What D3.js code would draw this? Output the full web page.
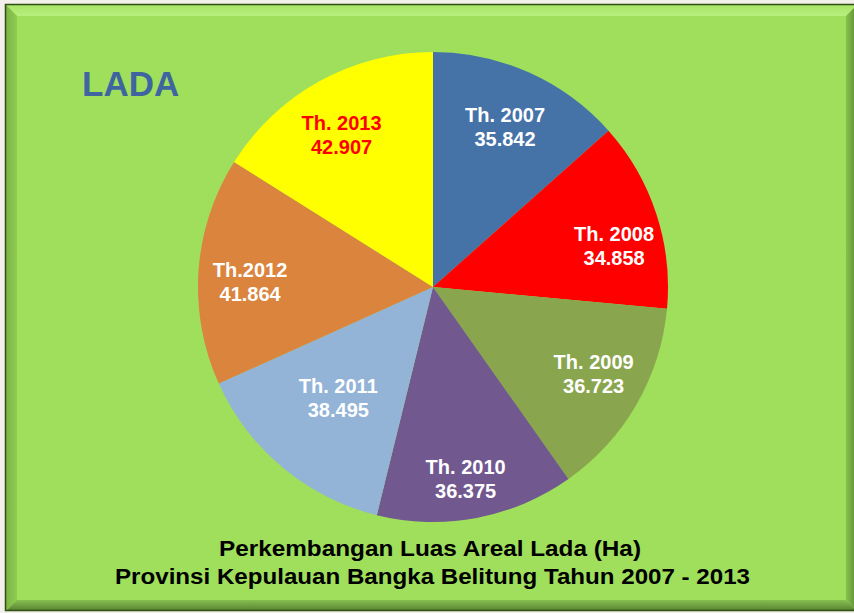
<!DOCTYPE html>
<html>
<head>
<meta charset="utf-8">
<style>
    body { margin:0; background:#f3efe9; }
    svg { display:block; }
    text { font-family: Arial, "Liberation Sans", sans-serif; font-weight:bold; }
</style>
</head>
<body>
<svg id="view" width="854" height="613"></svg>

<script src="https://cdnjs.cloudflare.com/ajax/libs/d3/7.8.5/d3.min.js"></script>
<script>
    // data (Ha)
    const years = ['2007', '2008', '2009', '2010', '2011', '2012', '2013'];
    const values = [35842, 34858, 36723, 36375, 38495, 41864, 42907];
    const yearLabels = ['Th. 2007', 'Th. 2008', 'Th. 2009', 'Th. 2010', 'Th. 2011', 'Th.2012', 'Th. 2013'];
    const sliceColours = ['#4572A7', '#FF0000', '#89A54E', '#71588F', '#93B3D7', '#DB843D', '#FFFF00'];
    const labelColours = ['#fff', '#fff', '#fff', '#fff', '#fff', '#fff', '#FF0000'];
    const titleLines = ['Perkembangan Luas Areal Lada  (Ha)', 'Provinsi Kepulauan Bangka Belitung Tahun 2007 - 2013'];

    // label placement (Excel "best fit" look): distance from centre and small angle nudge
    const labelRadius = [176, 186, 182, 194, 145, 183, 178];
    const labelNudge = [0, 5, -2, 1, 1, -2, -2]; // degrees

    const svg = d3.select('#view');

    // green bevelled panel
    const x0 = 6, y0 = 5, x1 = 857, y1 = 611, b = 11;
    const defs = svg.append('defs');
    function grad(id, x2, y2, c0, c1) {
        const g = defs.append('linearGradient').attr('id', id)
            .attr('x1', 0).attr('y1', 0).attr('x2', x2).attr('y2', y2);
        g.append('stop').attr('offset', '0%').attr('stop-color', c0);
        g.append('stop').attr('offset', '100%').attr('stop-color', c1);
    }
    grad('gTop', 0, 1, '#a6e466', '#b8f07e');
    grad('gLeft', 1, 0, '#7cb445', '#8fcc52');
    grad('gRight', 1, 0, '#86c34e', '#5c8a34');
    grad('gBot', 0, 1, '#86c04f', '#587f31');

    svg.append('rect').attr('x', x0).attr('y', y0).attr('width', x1 - x0).attr('height', y1 - y0)
        .attr('fill', '#9fdf5b');
    svg.append('polygon').attr('fill', 'url(#gTop)')
        .attr('points', [[x0, y0], [x1, y0], [x1 - b, y0 + b], [x0 + b, y0 + b]].join(' '));
    svg.append('polygon').attr('fill', 'url(#gLeft)')
        .attr('points', [[x0, y0], [x0 + b, y0 + b], [x0 + b, y1 - b], [x0, y1]].join(' '));
    svg.append('polygon').attr('fill', 'url(#gRight)')
        .attr('points', [[x1, y0], [x1, y1], [x1 - b, y1 - b], [x1 - b, y0 + b]].join(' '));
    svg.append('polygon').attr('fill', 'url(#gBot)')
        .attr('points', [[x0, y1], [x1, y1], [x1 - b, y1 - b], [x0 + b, y1 - b]].join(' '));
    svg.append('rect').attr('x', x0 - 0.5).attr('y', y0 - 0.5).attr('width', x1 - x0).attr('height', y1 - y0)
        .attr('fill', 'none').attr('stroke', '#2f4f16').attr('stroke-width', 1.5);

    // title
    svg.append('text').attr('x', 82).attr('y', 96)
        .attr('font-size', 35).attr('fill', '#3e65a0').text('LADA');

    // pie
    const cx = 433, cy = 287, r = 235;
    const pie = d3.pie().sort(null).value(d => d)(values);
    const arc = d3.arc().innerRadius(0).outerRadius(r);
    const g = svg.append('g').attr('transform', `translate(${cx},${cy})`);

    g.selectAll('path').data(pie).join('path')
        .attr('d', arc)
        .attr('fill', (d, i) => sliceColours[i]);

    const fmt = v => d3.format(',')(v).replace(/,/g, '.');
    const labelPos = (d, i) => {
        const a = (d.startAngle + d.endAngle) / 2 + labelNudge[i] * Math.PI / 180;
        return [labelRadius[i] * Math.sin(a), -labelRadius[i] * Math.cos(a)];
    };
    const lab = g.selectAll('g.lab').data(pie).join('g')
        .attr('class', 'lab')
        .attr('transform', (d, i) => `translate(${labelPos(d, i)})`);
    lab.append('text').attr('text-anchor', 'middle').attr('y', -4)
        .attr('font-size', 20).attr('fill', (d, i) => labelColours[i])
        .text((d, i) => yearLabels[i]);
    lab.append('text').attr('text-anchor', 'middle').attr('y', 20)
        .attr('font-size', 20).attr('fill', (d, i) => labelColours[i])
        .text(d => fmt(d.data));

    // caption under the pie
    const widths = [422, 635];
    svg.selectAll('text.cap').data(titleLines).join('text')
        .attr('class', 'cap')
        .attr('x', (d, i) => i === 0 ? 219 : 115)
        .attr('y', (d, i) => 556 + i * 28)
        .attr('font-size', 22).attr('fill', '#000')
        .attr('textLength', (d, i) => widths[i])
        .attr('lengthAdjust', 'spacingAndGlyphs')
        .text(d => d);
</script>
</body>
</html>
